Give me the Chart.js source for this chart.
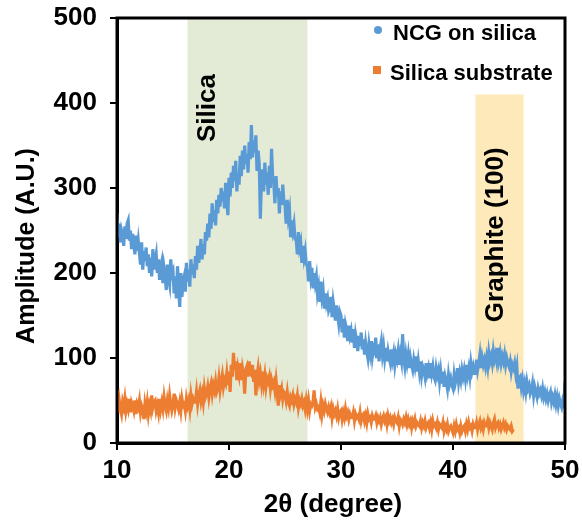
<!DOCTYPE html>
<html><head><meta charset="utf-8">
<script src="https://cdn.jsdelivr.net/npm/chart.js@4.4.1/dist/chart.umd.min.js"></script>
<style>html,body{margin:0;padding:0;background:#fff}canvas{display:block}</style>
</head><body>
<canvas id="c" width="582" height="523"></canvas>
<script>
// ---- data (2θ scan, step 0.1°) ----
const seriesNames = ['NCG on silica', 'Silica substrate'];
const scanStartDeg = 10.0;
const scanStepDeg = 0.1;
const ncgValues = [
  270,242,258,236,250,244,232,255,240,258,
  262,238,250,228,246,234,222,244,226,238,
  224,210,236,204,226,214,230,208,222,200,
  218,196,228,204,214,222,200,216,192,208,
  214,188,206,196,180,210,194,186,216,198,
  202,176,196,170,208,186,160,200,172,190,
  196,178,212,190,204,184,216,198,210,194,
  220,204,232,212,226,240,216,234,222,248,
  238,258,242,270,252,282,260,274,256,286,
  270,292,278,300,284,296,276,306,288,268,
  312,290,318,300,326,308,332,296,318,304,
  338,314,344,322,350,328,340,318,354,334,
  374,336,356,342,362,320,344,328,264,310,
  322,296,330,304,318,292,326,300,346,312,
  306,282,314,290,300,270,296,280,304,284,
  280,258,286,266,274,242,262,250,258,240,
  240,222,248,230,236,212,232,218,226,210,
  208,190,214,196,206,182,200,188,196,176,
  184,166,190,172,180,158,176,164,170,156,
  160,172,148,166,156,144,162,150,140,154,
  150,130,146,124,140,134,120,138,126,132,
  118,134,112,128,120,108,126,114,130,110,
  122,104,118,108,100,116,106,120,102,112,
  108,124,100,116,96,112,120,104,114,100,
  112,96,108,100,94,110,98,106,92,104,
  98,108,92,104,96,128,100,90,104,94,
  104,88,100,92,86,98,90,102,84,96,
  84,96,80,90,86,78,94,82,88,76,
  94,82,90,78,74,88,80,86,72,84,
  70,84,66,78,72,64,80,70,76,68,
  64,80,70,76,88,72,82,74,86,78,
  86,76,92,80,88,78,94,84,90,82,
  82,98,86,94,104,88,100,92,98,90,
  100,90,106,96,102,94,108,98,104,96,
  112,98,106,94,102,96,104,92,100,94,
  90,96,84,92,88,94,82,90,64,76,
  78,66,74,62,70,60,72,64,68,58,
  62,70,56,66,60,54,64,58,62,56,
  64,54,60,52,58,50,56,60,48,54,
  48,56,46,54,44,52,46,42,50,46,
  72
];
const silicaValues = [
  62,36,50,40,34,48,42,52,38,46,
  40,52,36,48,44,38,50,34,46,42,
  50,36,44,40,28,46,38,48,34,44,
  38,56,42,48,50,38,44,36,52,40,
  48,40,54,44,38,50,42,56,46,38,
  44,58,42,50,46,40,48,38,52,44,
  46,38,52,44,50,40,56,46,52,48,
  48,60,46,56,62,50,58,48,64,54,
  58,66,54,64,70,58,68,62,72,60,
  64,76,62,72,80,66,74,70,82,68,
  84,60,92,78,106,86,96,74,88,80,
  94,74,88,80,58,86,90,78,96,82,
  80,92,72,86,56,78,88,74,82,70,
  84,70,80,66,76,72,78,64,74,68,
  72,62,74,60,44,68,58,64,52,60,
  58,50,60,48,44,54,50,56,46,52,
  48,56,42,50,46,52,44,48,40,50,
  40,50,38,46,44,48,62,42,46,40,
  42,36,48,34,44,38,46,40,36,42,
  36,42,30,40,34,38,32,40,30,36,
  38,28,36,30,40,32,36,28,34,30,
  30,36,26,34,30,32,28,36,26,32,
  34,26,32,24,34,28,30,24,32,28,
  28,32,24,30,26,30,22,28,32,26,
  30,22,32,26,30,24,28,22,30,26,
  24,30,20,28,26,22,28,24,30,22,
  28,22,26,18,26,22,28,20,24,22,
  20,26,18,24,20,26,18,22,24,18,
  24,16,26,20,22,18,24,16,22,20,
  18,24,14,20,16,22,14,18,20,16,
  12,20,14,22,16,18,12,20,14,18,
  20,14,22,16,24,18,20,14,22,18,
  18,24,16,22,26,18,22,16,24,20,
  20,26,18,24,20,16,24,28,18,22,
  24,18,22,16,20,24,18,22,16,20,
  18,16,20,14,16
];
const xTickValues = [10, 20, 30, 40, 50];
const yTickValues = [0, 100, 200, 300, 400, 500];
const silicaBand = [16.3, 27.0, 500];      // [from°, to°, top amplitude]
const graphiteBand = [42.0, 46.3, 410];
const bandLabels = ['Silica', 'Graphite (100)'];
const bandLabelAnchors = [[18.05, 394], [43.75, 245]]; // [2θ, amplitude] centre of rotated text
const axisTitles = ['2θ (degree)', 'Amplitude (A.U.)'];

// ---- build points ----
const toPoints = vals => vals.map((v, i) => ({x: +(scanStartDeg + i * scanStepDeg).toFixed(1), y: v}));

const FONT = '"Liberation Sans", Arial, sans-serif';
const BLUE = '#5b9bd5', ORANGE = '#ed7d31';

const decor = {
  id: 'decor',
  beforeDatasetsDraw(chart) {
    const {ctx, scales: {x, y}} = chart;
    ctx.save();
    const band = (b, col) => {
      const x0 = x.getPixelForValue(b[0]), x1 = x.getPixelForValue(b[1]);
      const yt = y.getPixelForValue(b[2]), yb = y.getPixelForValue(0);
      ctx.fillStyle = col;
      ctx.fillRect(x0, yt, x1 - x0, yb - yt);
    };
    band(silicaBand, '#e3ead6');
    band(graphiteBand, '#fde9b9');
    ctx.fillStyle = '#000';
    ctx.font = 'bold 26px ' + FONT;
    ctx.textAlign = 'center';
    ctx.textBaseline = 'middle';
    bandLabels.forEach((t, i) => {
      const px = x.getPixelForValue(bandLabelAnchors[i][0]);
      const py = y.getPixelForValue(bandLabelAnchors[i][1]);
      ctx.save();
      ctx.translate(px, py);
      ctx.rotate(-Math.PI / 2);
      ctx.fillText(t, 0, 1);
      ctx.restore();
    });
    ctx.restore();
  },
  afterDraw(chart) {
    const {ctx, chartArea: a} = chart;
    ctx.save();
    ctx.strokeStyle = '#000';
    ctx.lineWidth = 3;
    ctx.strokeRect(a.left, a.top, a.right - a.left, a.bottom - a.top);
    // axis titles
    ctx.fillStyle = '#000';
    ctx.textAlign = 'center';
    ctx.textBaseline = 'middle';
    ctx.font = 'bold 26px ' + FONT;
    ctx.fillText(axisTitles[0], (a.left + a.right) / 2 - 8, 505);
    ctx.save();
    ctx.font = 'bold 25px ' + FONT;
    ctx.translate(27, 246);
    ctx.rotate(-Math.PI / 2);
    ctx.fillText(axisTitles[1], 0, 0);
    ctx.restore();
    // legend (inside plot, top-right)
    ctx.font = 'bold 22px ' + FONT;
    ctx.textAlign = 'left';
    ctx.fillStyle = BLUE;
    ctx.beginPath(); ctx.arc(378, 30, 4, 0, Math.PI * 2); ctx.fill();
    ctx.fillStyle = '#000';
    ctx.fillText(seriesNames[0], 393, 34);
    ctx.fillStyle = ORANGE;
    ctx.fillRect(373, 66, 8, 8);
    ctx.fillStyle = '#000';
    ctx.fillText(seriesNames[1], 390, 74);
    ctx.restore();
  }
};

const tickFont = {family: FONT, size: 26, weight: 'bold'};
const gridOpts = {display: true, drawOnChartArea: false, drawTicks: true, tickLength: 7, color: '#000', lineWidth: 2};

new Chart(document.getElementById('c'), {
  type: 'line',
  data: {
    datasets: [
      {label: seriesNames[0], data: toPoints(ncgValues), borderColor: BLUE, borderWidth: 3.2, pointRadius: 0, tension: 0},
      {label: seriesNames[1], data: toPoints(silicaValues), borderColor: ORANGE, borderWidth: 3.2, pointRadius: 0, tension: 0}
    ]
  },
  options: {
    responsive: false,
    devicePixelRatio: 1,
    animation: false,
    layout: {padding: {left: 0, right: 17, top: 18, bottom: 0}},
    plugins: {legend: {display: false}, tooltip: {enabled: false}},
    scales: {
      x: {
        type: 'linear', min: 10, max: 50,
        afterBuildTicks: s => { s.ticks = xTickValues.map(v => ({value: v})); },
        afterFit: s => { s.height = 80; s.paddingLeft = 0; s.paddingRight = 0; },
        ticks: {font: tickFont, color: '#000', padding: 5},
        grid: gridOpts,
        border: {display: true, color: '#000', width: 3},
        title: {display: false}
      },
      y: {
        min: 0, max: 500,
        afterBuildTicks: s => { s.ticks = yTickValues.map(v => ({value: v})); },
        afterFit: s => { s.width = 117; s.paddingTop = 0; s.paddingBottom = 0; },
        ticks: {font: tickFont, color: '#000', padding: 13},
        grid: gridOpts,
        border: {display: true, color: '#000', width: 3},
        title: {display: false}
      }
    }
  },
  plugins: [decor]
});
</script>
</body></html>
